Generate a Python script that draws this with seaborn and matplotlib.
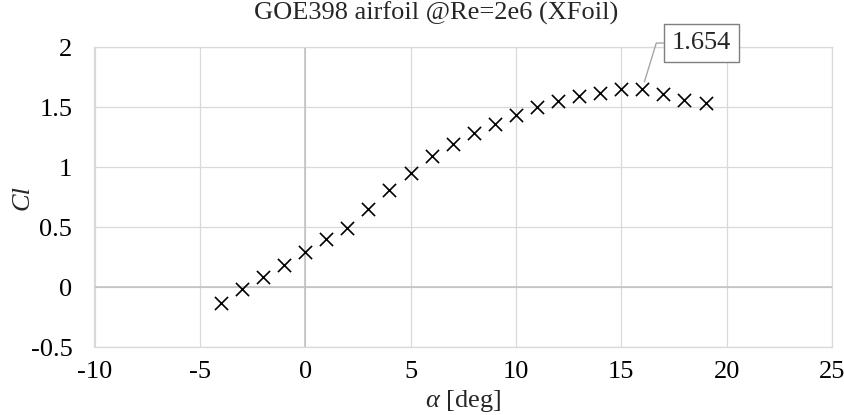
import matplotlib
matplotlib.use("Agg")
import matplotlib.pyplot as plt
import seaborn as sns
import pandas as pd

alpha = [-4, -3, -2, -1, 0, 1, 2, 3, 4, 5, 6, 7, 8, 9, 10, 11, 12, 13, 14, 15, 16, 17, 18, 19]
cl = [-0.13, -0.02, 0.08, 0.18, 0.29, 0.40, 0.49, 0.65, 0.81, 0.95, 1.09, 1.19, 1.28, 1.36,
      1.43, 1.50, 1.55, 1.59, 1.62, 1.648, 1.654, 1.61, 1.56, 1.53]
x_ticks = [-10, -5, 0, 5, 10, 15, 20, 25]
y_ticks = [-0.5, 0, 0.5, 1, 1.5, 2]
y_tick_labels = ["-0.5", "0", "0.5", "1", "1.5", "2"]
title = "GOE398 airfoil @Re=2e6 (XFoil)"
peak_label = "1.654"

df = pd.DataFrame({"alpha": alpha, "cl": cl})

sns.set_theme(style="whitegrid")
plt.rcParams["font.family"] = ["Liberation Serif", "DejaVu Serif"]
plt.rcParams["mathtext.fontset"] = "custom"
plt.rcParams["mathtext.rm"] = "Liberation Serif"
plt.rcParams["mathtext.it"] = "Liberation Serif:italic"

FS = 19

fig = plt.figure(figsize=(8.45, 4.15), dpi=100)
ax = fig.add_axes([94.5 / 845, 1 - 347 / 415, (832 - 94.5) / 845, (347 - 47) / 415])

sns.scatterplot(data=df, x="alpha", y="cl", marker="x", color="black", s=90,
                linewidth=1.2, ax=ax, zorder=5)

ax.set_xlim(-10, 25)
ax.set_ylim(-0.5, 2)
ax.set_xticks(x_ticks)
ax.set_xticklabels([str(t) for t in x_ticks])
ax.set_yticks(y_ticks)
ax.set_yticklabels(y_tick_labels)
ax.grid(True, color="#d9d9d9", linewidth=0.9)
ax.axhline(0, color="#bfbfbf", linewidth=1.1, zorder=1)
ax.axvline(0, color="#bfbfbf", linewidth=1.1, zorder=1)
for s in ax.spines.values():
    s.set_color("#d9d9d9")
    s.set_linewidth(0.9)
ax.tick_params(axis="both", labelsize=FS, colors="black", length=0)
ax.tick_params(axis="x", pad=10)
ax.tick_params(axis="y", pad=16)

ax.set_xlabel(r"$\it{\alpha}$ [deg]", fontsize=FS, va="center")
ax.xaxis.set_label_coords(0.5, (347 - 401) / 300)
ax.set_ylabel("Cl", fontsize=FS, style="italic", va="center", ha="center")
ax.yaxis.set_label_coords((23 - 94.5) / 737.5, 0.5)
fig.text(436 / 845, 1 - 13 / 415, title, ha="center", va="center", fontsize=FS)

ax.annotate(peak_label, xy=(alpha[20], cl[20]), xytext=(18.81, 2.033),
            textcoords="data", ha="center", va="center", fontsize=FS,
            annotation_clip=False,
            bbox=dict(boxstyle="square,pad=0.3", fc="white", ec="#7f7f7f", lw=1.0),
            arrowprops=dict(arrowstyle="-", color="#a6a6a6", lw=1.0,
                            connectionstyle="angle,angleA=0,angleB=73,rad=0",
                            shrinkA=0, shrinkB=5),
            zorder=6)

fig.savefig("out.png", dpi=100)
